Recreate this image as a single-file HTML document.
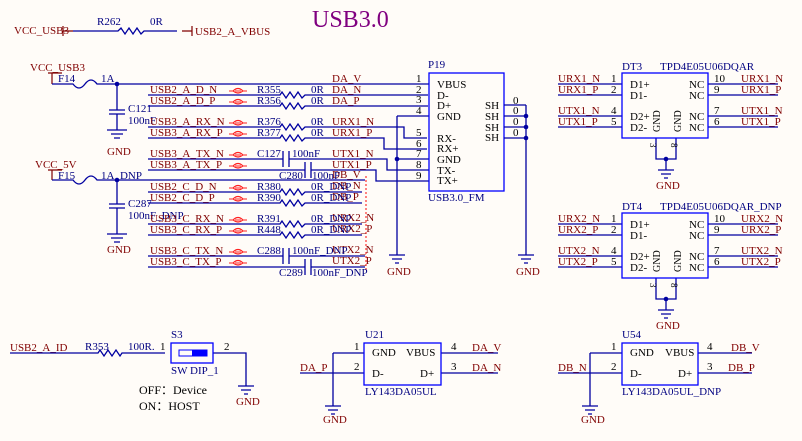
<!DOCTYPE html>
<html><head><meta charset="utf-8"><style>
html,body{margin:0;padding:0;background:#fffcf8;}
svg{display:block;font-family:"Liberation Serif",serif;font-size:11px;}
.n{fill:#800000}.b{fill:#000080}.k{fill:#000}
.w{stroke:#0000a0;stroke-width:1.3;fill:none}
.r{stroke:#800000;stroke-width:1.2;fill:none}
.x{stroke:#ff2020;stroke-width:1.1;fill:none}
.bx{stroke:#0000ff;stroke-width:1.3;fill:#fffcf8}
</style></head><body>
<svg width="802" height="441" viewBox="0 0 802 441">
<text x="312" y="27" font-size="24" fill="#800080">USB3.0</text>

<!-- top R262 -->
<text x="14" y="34" class="n">VCC_USB3</text>
<path class="r" d="M63 26v10M63 31h10M192 26v10M182 31h10"/>
<path class="w" d="M73 31h45 l3 -3 l4 6 l4 -6 l4 6 l4 -6 l4 6 l3 -3 h33"/>
<text x="97" y="25" class="b">R262</text><text x="150" y="25" class="b">0R</text>
<text x="195" y="35" class="n">USB2_A_VBUS</text>

<!-- VCC_USB3 fuse -->
<text x="30" y="71" class="n">VCC_USB3</text>
<path class="r" d="M48 73h14M52 73v11"/>
<text x="58" y="82" class="b">F14</text>
<path class="w" d="M52 84h21 q6 8 12 0 q6 -8 12 0 h333"/>
<text x="101" y="82" class="b">1A</text>
<circle cx="117" cy="84" r="2.3" fill="#0000a0"/>
<path class="w" d="M117 84v26M109 110h16M109 114h16M117 114v16M107 130h20M111 134h12M114 138h6"/>
<text x="128" y="112" class="b">C121</text><text x="128" y="124" class="b">100nF</text>
<text x="107" y="155" class="n">GND</text>

<!-- VCC_5V fuse -->
<text x="35" y="168" class="n">VCC_5V</text>
<path class="r" d="M48 170h14M52 170v10"/>
<text x="58" y="179" class="b">F15</text>
<path class="w" d="M52 180h21 q6 8 12 0 q6 -8 12 0 h268"/>
<text x="101" y="179" class="b">1A_DNP</text>
<circle cx="117" cy="180" r="2.3" fill="#0000a0"/>
<path class="w" d="M117 180v24M109 204h16M109 208h16M117 208v26M107 234h20M111 238h12M114 242h6"/>
<text x="128" y="207" class="b">C287</text><text x="128" y="219" class="b">100nF_DNP</text>
<text x="107" y="253" class="n">GND</text>

<!-- rows -->
<g class="w">
<path d="M148 95h132 l2 -3 l4 6 l4 -6 l4 6 l4 -6 l4 6 l3 -3 h123"/>
<path d="M148 106h132 l2 -3 l4 6 l4 -6 l4 6 l4 -6 l4 6 l3 -3 h123"/>
<path d="M148 127h132 l2 -3 l4 6 l4 -6 l4 6 l4 -6 l4 6 l3 -3 h99 v11 h23"/>
<path d="M148 138h132 l2 -3 l4 6 l4 -6 l4 6 l4 -6 l4 6 l3 -3 h79 v11 h43"/>
<path d="M148 159h135 M289 159h98 v11 h43"/>
<path d="M148 170h157 M311 170h65 v11 h54"/>
<path d="M283 151v16M289 151v16M305 162v16M311 162v16"/>
<path d="M148 192h132 l2 -3 l4 6 l4 -6 l4 6 l4 -6 l4 6 l3 -3 h57"/>
<path d="M148 203h132 l2 -3 l4 6 l4 -6 l4 6 l4 -6 l4 6 l3 -3 h57"/>
<path d="M148 224h132 l2 -3 l4 6 l4 -6 l4 6 l4 -6 l4 6 l3 -3 h57"/>
<path d="M148 235h132 l2 -3 l4 6 l4 -6 l4 6 l4 -6 l4 6 l3 -3 h57"/>
<path d="M148 256h135 M289 256h76 M148 267h157 M311 267h54"/>
<path d="M283 248v16M289 248v16M305 259v16M311 259v16"/>
</g>
<g class="x">
<path d="M229 91h4q5 -5 10 0h4M229 91h4q5 4 10 0h4M235 91h6"/>
<path d="M229 102h4q5 -5 10 0h4M229 102h4q5 4 10 0h4M235 102h6"/>
<path d="M229 123h4q5 -5 10 0h4M229 123h4q5 4 10 0h4M235 123h6"/>
<path d="M229 134h4q5 -5 10 0h4M229 134h4q5 4 10 0h4M235 134h6"/>
<path d="M229 155h4q5 -5 10 0h4M229 155h4q5 4 10 0h4M235 155h6"/>
<path d="M229 166h4q5 -5 10 0h4M229 166h4q5 4 10 0h4M235 166h6"/>
<path d="M229 188h4q5 -5 10 0h4M229 188h4q5 4 10 0h4M235 188h6"/>
<path d="M229 199h4q5 -5 10 0h4M229 199h4q5 4 10 0h4M235 199h6"/>
<path d="M229 220h4q5 -5 10 0h4M229 220h4q5 4 10 0h4M235 220h6"/>
<path d="M229 231h4q5 -5 10 0h4M229 231h4q5 4 10 0h4M235 231h6"/>
<path d="M229 252h4q5 -5 10 0h4M229 252h4q5 4 10 0h4M235 252h6"/>
<path d="M229 263h4q5 -5 10 0h4M229 263h4q5 4 10 0h4M235 263h6"/>
<path stroke-dasharray="2 2" d="M366 176v95"/>
</g>
<g class="n">
<text x="150" y="93">USB2_A_D_N</text><text x="150" y="104">USB2_A_D_P</text>
<text x="150" y="125">USB3_A_RX_N</text><text x="150" y="136">USB3_A_RX_P</text>
<text x="150" y="157">USB3_A_TX_N</text><text x="150" y="168">USB3_A_TX_P</text>
<text x="150" y="190">USB2_C_D_N</text><text x="150" y="201">USB2_C_D_P</text>
<text x="150" y="222">USB3_C_RX_N</text><text x="150" y="233">USB3_C_RX_P</text>
<text x="150" y="254">USB3_C_TX_N</text><text x="150" y="265">USB3_C_TX_P</text>
<text x="332" y="82">DA_V</text><text x="332" y="93">DA_N</text><text x="332" y="104">DA_P</text>
<text x="332" y="125">URX1_N</text><text x="332" y="136">URX1_P</text>
<text x="332" y="157">UTX1_N</text><text x="332" y="168">UTX1_P</text>
<text x="332" y="178">DB_V</text><text x="332" y="189">DB_N</text><text x="332" y="200">DB_P</text>
<text x="332" y="221">URX2_N</text><text x="332" y="232">URX2_P</text>
<text x="332" y="253">UTX2_N</text><text x="332" y="264">UTX2_P</text>
</g>
<g class="b">
<text x="257" y="93">R355</text><text x="311" y="93">0R</text>
<text x="257" y="104">R356</text><text x="311" y="104">0R</text>
<text x="257" y="125">R376</text><text x="311" y="125">0R</text>
<text x="257" y="136">R377</text><text x="311" y="136">0R</text>
<text x="257" y="157">C127</text><text x="292" y="157">100nF</text>
<text x="279" y="179">C280</text><text x="312" y="179">100nF</text>
<text x="257" y="190">R380</text><text x="311" y="190">0R_DNP</text>
<text x="257" y="201">R390</text><text x="311" y="201">0R_DNP</text>
<text x="257" y="222">R391</text><text x="311" y="222">0R_DNP</text>
<text x="257" y="233">R448</text><text x="311" y="233">0R_DNP</text>
<text x="257" y="254">C288</text><text x="292" y="254">100nF_DNP</text>
<text x="279" y="276">C289</text><text x="312" y="276">100nF_DNP</text>
</g>

<!-- P19 -->
<path class="w" d="M397 116h33M397 116v139M397 159h33M389 255h16M392 259h10M395 263h4"/>
<circle cx="397" cy="159" r="2.3" fill="#0000a0"/>
<rect class="bx" x="429" y="73" width="75" height="118"/>
<text x="428" y="68" class="b">P19</text><text x="428" y="201" class="b">USB3.0_FM</text>
<g class="k">
<text x="416" y="82">1</text><text x="416" y="93">2</text><text x="416" y="103">3</text><text x="416" y="114">4</text>
<text x="416" y="136">5</text><text x="416" y="147">6</text><text x="416" y="157">7</text><text x="416" y="168">8</text><text x="416" y="179">9</text>
<text x="437" y="88">VBUS</text><text x="437" y="99">D-</text><text x="437" y="109">D+</text><text x="437" y="120">GND</text>
<text x="437" y="142">RX-</text><text x="437" y="152">RX+</text><text x="437" y="163">GND</text><text x="437" y="174">TX-</text><text x="437" y="184">TX+</text>
<text x="485" y="109">SH</text><text x="485" y="120">SH</text><text x="485" y="131">SH</text><text x="485" y="141">SH</text>
<text x="513" y="104">0</text><text x="513" y="114">0</text><text x="513" y="125">0</text><text x="513" y="136">0</text>
</g>
<path class="w" d="M504 105h22M504 116h22M504 127h22M504 138h22M526 105v150M518 255h16M521 259h10M524 263h4"/>
<circle cx="526" cy="116" r="2.3" fill="#0000a0"/><circle cx="526" cy="127" r="2.3" fill="#0000a0"/><circle cx="526" cy="138" r="2.3" fill="#0000a0"/>
<text x="387" y="275" class="n">GND</text><text x="516" y="275" class="n">GND</text>

<!-- DT3 / DT4 -->
<g id="dt">
<path class="w" d="M558 84h64M558 95h64M558 116h64M558 127h64M708 84h70M708 95h70M708 116h70M708 127h70M656 138v21h20v-21M666 159v11M658 170h16M661 174h10M664 178h4"/>
<circle cx="666" cy="159" r="2.3" fill="#0000a0"/>
<rect class="bx" x="622" y="73" width="86" height="65"/>
<g class="k">
<text x="611" y="82">1</text><text x="611" y="93">2</text><text x="611" y="114">4</text><text x="611" y="125">5</text>
<text x="714" y="82">10</text><text x="714" y="93">9</text><text x="714" y="114">7</text><text x="714" y="125">6</text>
<text x="630" y="88">D1+</text><text x="630" y="99">D1-</text><text x="630" y="120">D2+</text><text x="630" y="131">D2-</text>
<text x="689" y="88">NC</text><text x="689" y="99">NC</text><text x="689" y="120">NC</text><text x="689" y="131">NC</text>
<text transform="translate(660,132) rotate(-90)" font-size="10">GND</text>
<text transform="translate(681,132) rotate(-90)" font-size="10">GND</text>
<text transform="translate(650,143) rotate(90)" font-size="9">3</text>
<text transform="translate(671,143) rotate(90)" font-size="9">8</text>
</g>
<text x="656" y="189" class="n">GND</text>
</g>
<g class="n">
<text x="558" y="82">URX1_N</text><text x="558" y="93">URX1_P</text><text x="558" y="114">UTX1_N</text><text x="558" y="125">UTX1_P</text>
<text x="741" y="82">URX1_N</text><text x="741" y="93">URX1_P</text><text x="741" y="114">UTX1_N</text><text x="741" y="125">UTX1_P</text>
</g>
<text x="622" y="70" class="b">DT3</text><text x="660" y="70" class="b">TPD4E05U06DQAR</text>
<use href="#dt" transform="translate(0,140)"/>
<rect x="556" y="212" width="24" height="0" fill="none"/>
<g class="n">
<text x="558" y="222">URX2_N</text><text x="558" y="233">URX2_P</text><text x="558" y="254">UTX2_N</text><text x="558" y="265">UTX2_P</text>
<text x="741" y="222">URX2_N</text><text x="741" y="233">URX2_P</text><text x="741" y="254">UTX2_N</text><text x="741" y="265">UTX2_P</text>
</g>
<text x="622" y="210" class="b">DT4</text><text x="660" y="210" class="b">TPD4E05U06DQAR_DNP</text>

<!-- bottom: S3 -->
<text x="10" y="351" class="n">USB2_A_ID</text>
<path class="w" d="M10 353h88 l2 -3 l4 6 l4 -6 l4 6 l4 -6 l4 6 l2 -3 h43M213 353h33v33M238 386h16M241 390h10M244 394h4"/>
<text x="85" y="350" class="b">R353</text><text x="128" y="350" class="b">100R.</text>
<text x="160" y="350" class="k">1</text><text x="224" y="350" class="k">2</text>
<rect class="bx" x="171" y="343" width="42" height="20"/>
<rect x="179" y="350" width="28" height="6" fill="none" stroke="#0000ff" stroke-width="1"/>
<rect x="192" y="350" width="15" height="6" fill="#0000ff"/>
<text x="171" y="338" class="b">S3</text><text x="171" y="374" class="b">SW DIP_1</text>
<text x="139" y="394" class="k" font-size="12">OFF：Device</text>
<text x="139" y="410" class="k" font-size="12">ON：HOST</text>
<text x="236" y="405" class="n">GND</text>

<!-- U21 -->
<path class="w" d="M333 353h31M300 373h64M333 353v53M325 406h16M328 410h10M331 414h4M441 353h57M441 373h57"/>
<rect class="bx" x="364" y="343" width="77" height="42"/>
<text x="365" y="338" class="b">U21</text><text x="365" y="395" class="b">LY143DA05UL</text>
<g class="k"><text x="354" y="350">1</text><text x="354" y="370">2</text><text x="451" y="350">4</text><text x="451" y="370">3</text>
<text x="372" y="356">GND</text><text x="406" y="356">VBUS</text><text x="372" y="377">D-</text><text x="420" y="377">D+</text></g>
<text x="300" y="371" class="n">DA_P</text><text x="472" y="351" class="n">DA_V</text><text x="472" y="371" class="n">DA_N</text>
<text x="323" y="423" class="n">GND</text>

<!-- U54 -->
<path class="w" d="M590 353h32M558 373h64M590 353v53M582 406h16M585 410h10M588 414h4M698 353h54M698 373h54"/>
<rect class="bx" x="622" y="343" width="76" height="42"/>
<text x="622" y="338" class="b">U54</text><text x="622" y="395" class="b">LY143DA05UL_DNP</text>
<g class="k"><text x="611" y="350">1</text><text x="611" y="370">2</text><text x="707" y="350">4</text><text x="707" y="370">3</text>
<text x="630" y="356">GND</text><text x="665" y="356">VBUS</text><text x="630" y="377">D-</text><text x="678" y="377">D+</text></g>
<text x="558" y="371" class="n">DB_N</text><text x="731" y="351" class="n">DB_V</text><text x="728" y="371" class="n">DB_P</text>
<text x="581" y="423" class="n">GND</text>
</svg>
</body></html>
